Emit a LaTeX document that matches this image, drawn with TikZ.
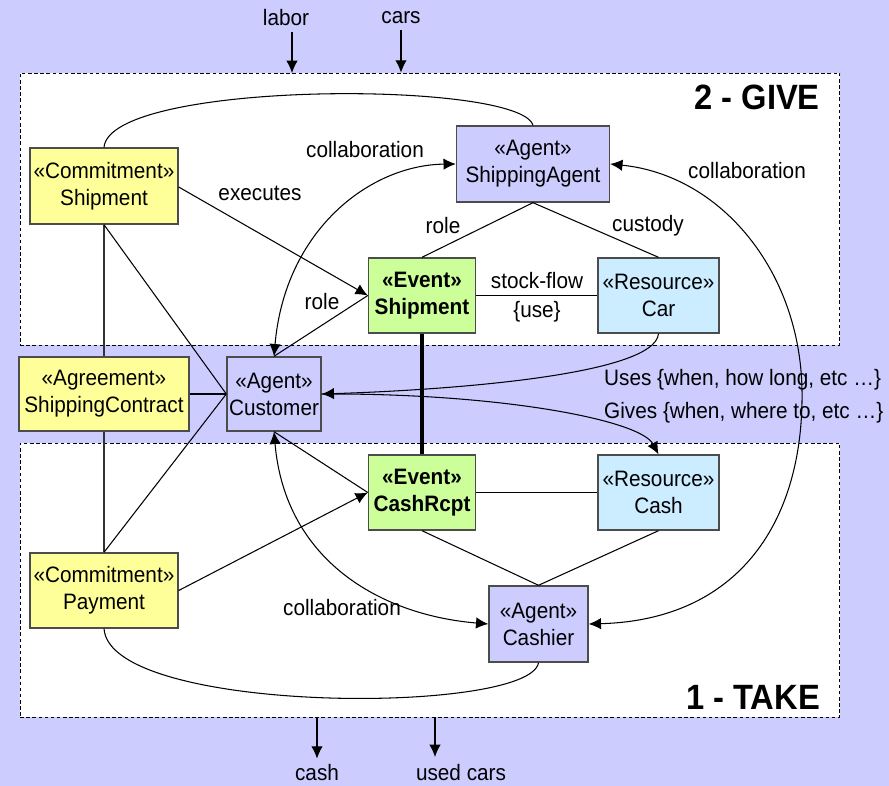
\documentclass[tikz,border=0pt]{standalone}
\usepackage{fontspec}
\setmainfont{Liberation Sans}[FakeStretch=0.93]
\usetikzlibrary{arrows.meta}
\definecolor{lav}{HTML}{CCCCFF}
\definecolor{yel}{HTML}{FFFF99}
\definecolor{grn}{HTML}{CCFF99}
\definecolor{sky}{HTML}{CCECFF}

\begin{document}
\begin{tikzpicture}
		[x=0.02cm, y=-0.02cm,
			font=\fontsize{12.7}{15.3}\selectfont,
 block/.style ={rectangle, draw=black!70, line width=0.8pt, align=center, inner sep=0pt, minimum height=1.5cm},
 commit/.style ={block, fill=yel, minimum width=2.96cm},
 agent/.style ={block, fill=lav},
 event/.style ={block, fill=grn, font=\fontsize{12.7}{15.3}\selectfont\bfseries, minimum width=2.14cm},
 resource/.style ={block, fill=sky, minimum width=2.42cm},
 zone/.style ={draw, fill=white, line width=0.5pt, dash pattern=on 2pt off 1.5pt, inner sep=0pt},
 title/.style ={anchor=east, font=\fontsize{20}{22}\selectfont\bfseries},
 line/.style ={draw, line width=0.6pt},
 arrow/.style ={line, -{Latex[length=7pt,width=6.5pt]}},
 both/.style ={line, {Latex[length=7pt,width=6.5pt]}-{Latex[length=7pt,width=6.5pt]}}]
	\fill[lav] (0,0) rectangle (889,786);
	\useasboundingbox (0,0) rectangle (889,786);
	% the two zones
	\node[zone, minimum width=16.4cm, minimum height=5.44cm] (give) at (430,209) {};
	\node[zone, minimum width=16.4cm, minimum height=5.48cm] (take) at (430,580) {};
	\node[title] (givelabel) at (826,97) {2 - GIVE};
	\node[title] (takelabel) at (826,697) {1 - TAKE};
	% nodes
	\node[commit, minimum height=1.52cm] (cship) at (104,186) {«Commitment»\\Shipment};
	\node[agent, minimum width=3.06cm, minimum height=1.52cm] (sagent) at (533,164) {«Agent»\\ShippingAgent};
	\node[event] (evship) at (422,295.5) {«Event»\\Shipment};
	\node[resource] (car) at (658.5,295.5) {«Resource»\\Car};
	\node[commit, minimum width=3.4cm, minimum height=1.48cm] (contract) at (104,394) {«Agreement»\\ShippingContract};
	\node[agent, minimum width=1.88cm, minimum height=1.48cm] (cust) at (274,394) {«Agent»\\Customer};
	\node[event] (cashrcpt) at (422,492.5) {«Event»\\CashRcpt};
	\node[resource] (cash) at (658.5,492.5) {«Resource»\\Cash};
	\node[commit] (pay) at (104,590.5) {«Commitment»\\Payment};
	\node[agent, minimum width=1.98cm, minimum height=1.52cm] (cashier) at (538.5,624) {«Agent»\\Cashier};
	% inflows and outflows
	\node (labor) at (286,18) {labor};
	\node (cars) at (401,18) {cars};
	\node (cashout) at (317,773) {cash};
	\node (usedcars) at (461,773) {used cars};
	\coordinate (laborin) at (292,73);
	\coordinate (usedout) at (435,757);
	\draw[arrow] (laborin |- labor.south) -- (laborin);
	\draw[arrow] (cars) -- (cars |- give.north);
	\draw[arrow] (cashout |- take.south) -- (cashout);
	\draw[arrow] (usedout |- take.south) -- (usedout);
	% connectors
	\draw[line] (cship.north) .. controls (110,80) and (520,80) .. (sagent.north);
	\draw[arrow] (cship.east) ++(0,1) -- (evship.west);
	\draw[line, draw=black!80] (cship.south) -- (contract.north);
	\draw[line, draw=black!80] (contract.south) -- (pay.north);
	\draw[line] (cship.south) -- (cust.west);
	\draw[line] (contract.east) -- (cust.west);
	\draw[line] (pay.north) -- (cust.west);
	\draw[arrow] (pay.east) -- (cashrcpt.west);
	\draw[line] (cust.south) -- (cashrcpt.west);
	\draw[line] (evship.west) -- (cust.north);
	\draw[both] (cust.north) .. controls (285,230) and (370,165) .. (sagent.west);
	\draw[line] (sagent.south) -- (evship.north);
	\draw[line] (sagent.south) -- (car.north);
	\draw[line] (evship.east) -- (car.west);
	\draw[line, line width=2.7pt] (evship.south) -- (cashrcpt.north);
	\draw[arrow] (car.south) .. controls (655,375) and (450,390) .. (cust.east);
	\draw[arrow] (cust.east) .. controls (500,393) and (640,420) .. (cash.north);
	\draw[both] (sagent.east) .. controls (720,175) and (800,270) .. (802,390)
		.. controls (804,520) and (740,620) .. (cashier.east);
	\draw[both] (cust.south) .. controls (285,560) and (380,615) .. (cashier.west);
	\draw[line] (cashrcpt.east) -- (cash.west);
	\draw[line] (cashrcpt.south) -- (cashier.north);
	\draw[line] (cash.south) -- (cashier.north);
	\draw[line] (pay.south) .. controls (110,715) and (530,715) .. (cashier.south);
	% connector labels
	\node (collab1) at (365,150) {collaboration};
	\node (executes) at (260,193) {executes};
	\node (role1) at (443,226) {role};
	\node (custody) at (648,226) {custody};
	\node (role2) at (322,302) {role};
	\node (stockflow) at (537,281) {stock-flow};
	\node (use) at (537,312) {\{use\}};
	\node (collab2) at (747,171) {collaboration};
	\node (collab3) at (342,608) {collaboration};
	\node[anchor=west] (uses) at (598,380) {Uses \{when, how long, etc …\}};
	\node[anchor=west] (gives) at (598,413) {Gives \{when, where to, etc …\}};
\end{tikzpicture}
\end{document}
